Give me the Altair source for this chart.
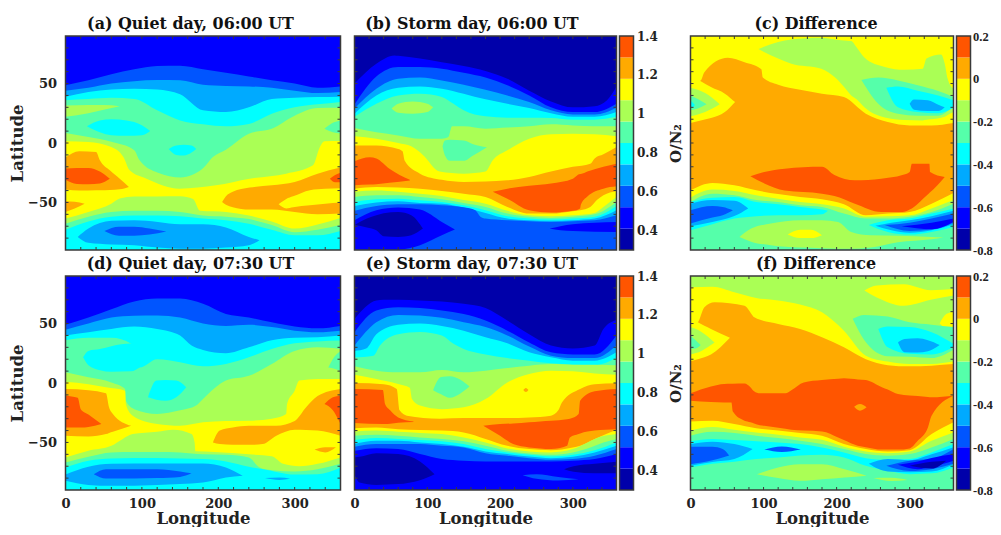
import altair as alt
import pandas as pd

COLORS = ["#0000AA", "#0000FF", "#0055FF", "#00AAFF", "#00FFFF", "#55FFAA", "#AAFF55", "#FFFF00", "#FFAA00", "#FF5500"]
LEVELS = list(range(10))
L = [0, 30, 60, 90, 120, 150, 180, 210, 240, 270, 300, 330, 360]
FRAME = "#3a3a3a"
TXT = "#222222"
FONT = "DejaVu Serif"
FONT2 = "Liberation Serif"
X_TICKS = list(range(20, 360, 20))
Y_TICKS = list(range(-80, 90, 10))
X_LABELS = [0, 100, 200, 300]
Y_LABELS = [-50, 0, 50]
BAR1_EDGES = [0.3, 0.41, 0.52, 0.63, 0.74, 0.85, 0.96, 1.07, 1.18, 1.29, 1.4]
BAR2_EDGES = [-0.8, -0.7, -0.6, -0.5, -0.4, -0.3, -0.2, -0.1, 0.0, 0.1, 0.2]
BAR1_LABELS = [0.4, 0.6, 0.8, 1.0, 1.2, 1.4]
BAR2_LABELS = [-0.8, -0.6, -0.4, -0.2, 0.0, 0.2]


def R(level, lons, hi, lo=None):
    return (level, lons, hi, lo if lo is not None else [-90] * len(lons))


PANEL_A = [
    R(1, [0, 360], [90, 90]),
    R(2, L, [48.5, 52.7, 57.8, 62, 64.7, 65, 62, 59, 56, 52.7, 50, 46.5, 47.6]),
    R(3, L, [44, 46.5, 50, 52, 53, 52.7, 49, 48, 47.6, 46.5, 44, 42, 43]),
    R(4, L, [39, 43, 45, 45.7, 45, 41, 27.5, 26, 30, 37, 38, 38.7, 39]),
    R(5, L, [36, 37, 38, 37, 27.5, 19, 15.7, 14, 16, 24.6, 30, 32.5, 34.5]),
    R(6, [0, 30, 60, 90, 97, 121, 151, 180, 193, 210, 240, 270, 300, 330, 360],
      [8.4, 5, 1, -6, -14.5, -25, -29, -21.3, -11.8, -5.6, 7.8, 12, 23, 29.4, 29.7]),
    R(7, [0, 30, 60, 76, 84, 106, 149, 197, 241, 289, 324, 333, 339, 360],
      [1.4, 0.8, -3.4, -12, -23, -30, -38.4, -35.6, -30, -25.8, -18.8, -3.4, 1.4, 1.7]),
    R(6, [0, 30, 60, 71, 90, 120, 150, 167, 176, 210, 240, 270, 300, 330, 360],
      [-63.6, -58, -51, -46.7, -45, -45, -44.8, -47, -57, -58, -61, -66, -72, -68.5, -63]),
    R(5, L, [-68, -62, -58, -57, -57, -58, -61, -62, -64, -69, -75, -73, -69]),
    R(4, L, [-73, -66, -62, -61, -61, -61.6, -63.6, -65, -68, -73, -77.6, -77.6, -74]),
    R(3, [16, 30, 60, 90, 121, 150, 180, 210, 240, 254],
      [-79, -72, -65.5, -65, -66.4, -68.4, -68.4, -71, -79, -81.7],
      [-79, -84, -85.4, -86, -88, -89, -89, -88, -86, -81.7]),
    R(2, [51, 70, 90, 110, 132], [-74, -70.5, -70.5, -72, -74.5], [-74, -78, -78, -77, -74.5]),
    R(6, [0, 30, 50, 71], [31.5, 32, 32, 31], [22, 25, 28, 31]),
    R(4, [28, 45, 60, 80, 100, 111], [14, 19, 20, 19, 15, 10], [14, 9, 6.5, 6, 6.5, 10]),
    R(4, [135, 145, 155, 165, 171], [-5, -2, -1.5, -2, -5], [-5, -10, -10.5, -8, -5]),
    R(5, [339, 350, 360], [12, 17, 19], [12, 9, 8]),
    R(8, [0, 18, 40, 45, 58, 71, 83], [-12.3, -7, -7.5, -14.5, -23, -30, -37], [-39.2, -40, -39.7, -39.7, -39.5, -39, -37]),
    R(9, [0, 15, 30, 45, 58], [-21.5, -21, -21, -24, -30], [-31, -34.5, -34.7, -34, -30]),
    R(8, [0, 12, 25], [-49, -49.5, -51], [-58, -55, -51]),
    R(8, [205, 210, 219, 241, 270, 300, 330, 360],
      [-49.6, -44.8, -41, -37.5, -35.6, -32.8, -25.8, -20.7],
      [-49.6, -52, -54, -56, -56, -58, -60, -59.4]),
    R(7, [279, 289, 298, 320, 340, 360], [-51.5, -47, -44.8, -39.7, -38.5, -38], [-51.5, -55, -54, -52.4, -51, -50]),
    R(9, [346, 353, 360], [-30, -27, -25], [-30, -33, -33]),
]

PANEL_B = [
    R(0, [0, 360], [90, 90]),
    R(1, [0, 30, 55, 60, 90, 120, 150, 180, 210, 240, 270, 300, 330, 347, 360],
      [50, 66.7, 73.7, 73.4, 71, 68, 64.7, 60.5, 54, 44, 35, 30, 31, 36, 47.6]),
    R(2, L, [32.5, 56, 64, 64, 62.5, 59, 55, 48.5, 40, 30, 26, 26, 33]),
    R(3, L, [29, 45.6, 54, 55, 52.6, 49, 44.8, 40, 34.5, 27.5, 24, 24, 29.7]),
    R(4, L, [24.6, 40, 46.5, 47.6, 45.7, 41.5, 36.7, 33, 29.4, 25, 22, 22, 26]),
    R(5, [0, 30, 60, 90, 120, 136, 150, 180, 210, 240, 270, 300, 330, 360],
      [22, 33, 40, 41.5, 38.7, 33, 27.5, 22.4, 21.3, 21.3, 21, 19.6, 19.6, 22]),
    R(6, [0, 30, 60, 90, 120, 129, 134, 150, 180, 210, 240, 270, 300, 330, 360],
      [12.6, 9, 6.4, 3.6, 3.6, 5, 14, 14, 12, 13, 14, 15.7, 14.8, 14, 14]),
    R(7, [0, 30, 60, 78, 94, 117, 150, 180, 190, 210, 240, 270, 300, 330, 360],
      [5.6, 3.6, 0, -2.8, -10, -24, -25.8, -24, -14.6, -6.2, 3.6, 7.3, 7.8, 7.3, 5.6]),
    R(8, [0, 30, 60, 66, 69, 90, 120, 150, 210, 240, 270, 300, 324, 330, 342, 360],
      [-2, -2, -5, -7, -15, -25.8, -31, -32.8, -31.4, -28.6, -24, -20, -17.4, -13, -9.5, -3.4]),
    R(7, [0, 30, 60, 90, 120, 150, 180, 210, 240, 270, 300, 310, 324, 333, 342, 360],
      [-38.4, -37, -37.5, -38.4, -40.3, -42.6, -45.4, -53.8, -59.4, -59.4, -57.4, -56.6, -53.8, -48, -44, -40.3]),
    R(6, [0, 30, 60, 90, 120, 150, 180, 210, 240, 270, 300, 330, 342, 360],
      [-41, -40, -41, -42.6, -44.6, -48, -51, -57, -60.8, -61.6, -60.8, -58.8, -53.8, -45.4]),
    R(5, L, [-45.4, -44, -44, -45.4, -47.3, -50.4, -53.8, -59.4, -62, -63, -62, -60, -49.6]),
    R(4, L, [-49.6, -47.3, -46.8, -48.2, -49.6, -52.4, -56.6, -61.6, -63.6, -64.4, -63.6, -62, -53]),
    R(3, L, [-53, -50, -49, -50.4, -51, -54.3, -58.8, -63.6, -65, -65.5, -65, -63.6, -56.6]),
    R(2, [0, 30, 60, 90, 120, 150, 166, 173, 180, 210, 240, 270, 300, 330, 360],
      [-57, -53, -51.5, -51.5, -52.4, -54, -56.6, -62, -63.6, -65, -65.8, -66.4, -65.8, -65, -60.8]),
    R(1, [0, 30, 60, 90, 120, 138], [-65, -56.6, -54.3, -56, -66.4, -72.8], [-89.6, -89.6, -89.6, -86, -77.6, -72.8]),
    R(0, [0, 17, 30, 40, 60, 78, 94], [-69, -63.6, -60.8, -59, -58, -60.8, -72], [-69, -71, -73.4, -78.4, -79, -77.6, -72]),
    R(1, [268, 283, 300, 360], [-72, -70, -68.3, -66.4], [-72, -73.4, -74, -74.8]),
    R(6, [51, 60, 80, 100, 108], [29, 33, 35, 33, 30], [29, 25.5, 24.6, 26, 30]),
    R(5, [121, 124, 131, 150, 163, 182], [-3, 2, 2.8, 2, -1, -3.5], [-3, -10, -15, -15, -10.5, -3.5]),
    R(9, [0, 21, 30, 48, 76], [-15.4, -12, -13, -21.6, -31], [-35.6, -35, -34.7, -33.5, -31.5]),
    R(9, [190, 210, 240, 270, 300, 310, 311, 320, 342, 360],
      [-41, -38.4, -36, -34, -30, -26, -26, -24, -20, -17.4],
      [-41, -46.8, -56.6, -58.5, -57, -55, -52, -45, -38.4, -36.4]),
]

PANEL_C = [
    R(7, [0, 360], [90, 90]),
    R(6, [93, 120, 138, 179, 198, 214, 220, 227, 238, 266, 293, 318, 323, 343, 348, 352, 360],
      [79, 85, 87, 88.5, 87, 86, 85.7, 80.7, 72, 64, 61.6, 62.5, 71, 74.5, 66.7, 54, 45.6],
      [79, 71, 66.7, 62.5, 55, 44.3, 40, 37, 30, 21.5, 19.4, 19, 19.5, 21.3, 22, 23.5, 26]),
    R(8, [0, 14, 19, 51, 74, 97, 99, 120, 150, 180, 210, 240, 270, 300, 330, 360],
      [50, 52.6, 59.6, 71.7, 68, 62, 55, 49, 44.8, 41.5, 38.6, 24.6, 17.6, 14.8, 14.8, 16.8]),
    R(7, [0, 14, 28, 47, 61], [56, 52, 47, 41.5, 34.4], [16.8, 19, 21, 26, 34.4]),
    R(6, [0, 20, 40], [46.5, 42, 32.5], [22.4, 26, 32.5]),
    R(5, [0, 10, 22], [40, 37, 32.5], [27.5, 29, 32.5]),
    R(4, [0, 3, 6], [35.5, 34, 32], [29.7, 30, 32]),
    R(5, [234, 257, 284, 311, 339, 360], [53, 55, 52.6, 48.5, 43.7, 38.7], [53, 33, 24.6, 23, 23, 31.6]),
    R(4, [268, 284, 311, 339, 360], [46.5, 47.6, 44, 40, 36], [46.5, 30, 26, 25, 29.7]),
    R(3, [300, 306, 325, 340, 348], [33, 36.5, 36, 32, 30], [33, 28, 27, 27, 30]),
    R(7, L, [-39.8, -33.6, -35.6, -39.8, -43, -45.4, -47.3, -51.5, -60.8, -59.4, -58, -51, -42]),
    R(6, L, [-46, -39.2, -40.3, -44, -46.8, -49.6, -51.5, -55, -62, -61.6, -60.8, -55, -48]),
    R(5, L, [-49.6, -42.6, -44, -48, -49.6, -52.4, -53.8, -59.4, -63.6, -63.6, -62, -58, -51]),
    R(4, [0, 30, 60, 90, 120, 150, 180, 188],
      [-49.6, -46, -45.4, -49.6, -51.5, -53.8, -56, -57],
      [-73.4, -68.3, -63.6, -61.6, -60.8, -60.8, -60, -57]),
    R(3, [0, 30, 60, 79], [-51, -48, -48.5, -55], [-70, -66.4, -61.5, -55]),
    R(2, [0, 30, 44, 58], [-56.6, -53, -53.8, -56.6], [-67.8, -62.7, -60.8, -56.6]),
    R(6, [67, 83, 110, 150, 180, 202, 220, 247, 284, 330, 346],
      [-79, -72, -67.8, -65, -65, -66.4, -74.8, -77.6, -78, -79, -79.5],
      [-79, -83, -86, -88, -88.5, -89, -89, -88, -83.5, -81, -79.5]),
    R(7, [133, 150, 165, 180], [-77, -73, -73, -77.5], [-77, -80, -80, -77.5]),
    R(4, [244, 270, 300, 330, 360], [-69, -65, -63.6, -59.4, -55], [-69, -74.8, -77, -74.8, -70.6]),
    R(3, [253, 275, 300, 330, 360], [-69.7, -67, -65, -61.6, -57], [-69.7, -73.4, -75.4, -73.4, -68.3]),
    R(2, [266, 300, 330, 360], [-69, -67, -63.6, -59.4], [-69, -74, -72.8, -67]),
    R(1, [289, 330, 360], [-70, -67, -63.6], [-70, -72.5, -66.4]),
    R(9, [82, 101, 129, 180, 197, 225, 261, 290, 300, 303, 327, 328, 348],
      [-28, -24.4, -21.6, -20, -27, -31.4, -30, -27, -24.4, -17.4, -17.4, -24.4, -28.6],
      [-28, -34, -40, -42.6, -44.5, -51, -58, -58, -56, -55, -42, -41.5, -28.6]),
]

PANEL_D = [
    R(1, [0, 360], [90, 90]),
    R(2, L, [49, 55, 62, 68.5, 71, 71, 66.6, 58, 55, 51, 47.5, 46, 48]),
    R(3, L, [44.7, 50, 55, 56.5, 56.7, 55, 50, 48, 49, 47, 44, 42.7, 44]),
    R(4, [0, 30, 60, 90, 120, 150, 165, 180, 210, 240, 270, 300, 330, 360],
      [40, 42.7, 45.5, 47.5, 45.5, 40, 31.5, 27.8, 25, 30, 36, 38, 38.5, 40]),
    R(5, [0, 30, 60, 86, 97, 120, 150, 180, 210, 240, 270, 300, 330, 360],
      [36, 38, 38, 33, 13, 20, 17.4, 14, 16, 21.6, 28.6, 33.4, 35, 35.7]),
    R(4, [23, 30, 45, 60, 86, 97], [21.6, 27, 28.5, 31, 33.2, 14], [21.6, 15, 10.8, 9.5, 9.8, 13]),
    R(6, [0, 30, 60, 78, 79, 90, 120, 150, 171, 180, 210, 240, 270, 300, 330, 360],
      [9, 4.8, 0.5, -5, -15, -22, -26, -23, -19, -13.5, 2, 6, 16, 27, 30, 28.6]),
    R(5, [344, 352, 360], [13, 22, 27], [13, 12, 10]),
    R(4, [108, 119, 131, 145, 158], [-12, 2, 2.5, 2, -3.6], [-12, -14, -15, -12, -3.6]),
    R(7, [0, 30, 53, 78, 79, 88, 120, 150, 180, 210, 240, 270, 289, 290, 300, 306, 330, 360],
      [1, -1, -3.6, -6.5, -17.7, -27.5, -34.5, -36, -33, -32, -31.7, -30, -26, -17.7, -6.5, 2, 3.4, 3.4]),
    R(6, [0, 30, 60, 75, 88, 120, 141, 165, 169, 170, 195, 240, 270, 285, 306, 330, 360],
      [-62.6, -57, -52.8, -47, -43, -41, -39.3, -43, -50, -57.5, -58, -60, -61.6, -68, -70, -68, -62.6]),
    R(5, [0, 30, 60, 90, 120, 150, 180, 210, 240, 254, 270, 300, 330, 360],
      [-66.8, -62, -58.4, -58, -58, -58.4, -60, -60.4, -62.6, -71, -73.3, -74.4, -72.5, -68]),
    R(4, [0, 30, 60, 90, 120, 150, 180, 210, 240, 259, 300, 330, 360],
      [-71, -65.4, -63.5, -63, -63, -63.5, -64, -66, -70.5, -72.5, -77, -76.7, -71]),
    R(3, [0, 30, 60, 120, 180, 210, 232], [-77, -70.5, -68, -67.7, -67.7, -71, -78], [-82.3, -85.7, -86.5, -85.7, -83.7, -79.5, -78]),
    R(2, [37, 53, 90, 120, 150, 165], [-76.7, -72.5, -72.5, -72.5, -74.4, -76], [-76.7, -80.3, -80.3, -80, -79, -76]),
    R(3, [261, 280, 294], [-80, -79.5, -80.5], [-80, -81.5, -80.5]),
    R(8, [0, 30, 53, 57, 62, 86], [-5, -6, -8.7, -20.5, -26, -36], [-44.4, -45, -43, -42, -41, -36]),
    R(9, [0, 16, 20, 30, 47], [-10.7, -12.5, -22, -26.5, -34.5], [-37.5, -37.5, -37.5, -37, -34.5]),
    R(8, [193, 202, 219, 240, 258, 276, 300, 315, 330, 360],
      [-50, -40, -37.4, -36, -36, -36, -32, -20.5, -11, -5],
      [-50, -51.4, -52, -52, -51.4, -44.4, -39.3, -39.5, -40, -44.4]),
    R(9, [339, 350, 360], [-17.7, -12, -10.7], [-17.7, -23, -34.5]),
    R(8, [326, 340, 354], [-56, -54, -54], [-56, -58.4, -54]),
]

PANEL_E = [
    R(0, [0, 360], [90, 90]),
    R(1, [0, 30, 40, 60, 90, 120, 150, 180, 210, 240, 270, 300, 330, 342, 360],
      [54, 69.4, 70, 70, 69.4, 68.5, 66.6, 63, 52.5, 41, 31.5, 29, 31.5, 45.5, 53]),
    R(2, L, [42.7, 61, 63.8, 63, 61, 58, 52.5, 44, 34, 25.8, 24, 24, 40]),
    R(3, L, [31.5, 51, 57.3, 56.7, 54.8, 51, 47, 40, 30.6, 23, 21, 21, 31.5]),
    R(4, [0, 16, 30, 60, 90, 120, 150, 180, 210, 240, 270, 300, 330, 360],
      [27, 29, 41, 49, 50, 48, 44, 38.5, 33.4, 25.8, 21.6, 18.8, 18.8, 25.8]),
    R(5, [0, 26, 35, 60, 90, 120, 136, 150, 180, 210, 240, 270, 300, 330, 360],
      [21.6, 23, 31.5, 41, 43, 40, 33, 28.6, 24, 21, 18.8, 16.6, 15.4, 15, 21]),
    R(6, L, [14, 10.4, 9, 9, 11, 9, 10.4, 12.6, 14.6, 16, 15.4, 15.4, 15]),
    R(7, [0, 30, 60, 76, 79, 90, 120, 150, 180, 210, 240, 270, 300, 330, 360],
      [7, 3.4, -0.8, -4, -13.5, -19, -22, -20.5, -13.5, 0.5, 7.6, 10.4, 9.8, 8, 7]),
    R(8, [0, 40, 58, 62, 72, 117, 150, 210, 240, 270, 280, 285, 310, 330, 360],
      [0, -1, -5, -23, -27.5, -30, -29.5, -29.5, -29, -27.5, -23, -16.3, -5, -1, -0.3]),
    R(7, [0, 30, 60, 90, 120, 150, 180, 210, 240, 270, 300, 310, 330, 360],
      [-38, -37.4, -38.8, -39.6, -40, -41.6, -47, -52.8, -55.6, -56.5, -54.2, -52.8, -47, -39.3]),
    R(6, [0, 30, 60, 90, 120, 150, 180, 210, 240, 270, 300, 318, 330, 360],
      [-40.7, -40, -41, -42, -43, -45.8, -50, -55, -57.6, -58.4, -55.6, -50.6, -47, -43]),
    R(5, [0, 30, 60, 90, 120, 150, 180, 210, 240, 270, 300, 324, 342, 360],
      [-44.4, -43.5, -44.4, -45.8, -47, -49, -52.8, -57, -59.3, -60.4, -58.4, -54.2, -50, -47]),
    R(4, L, [-48, -46.3, -47, -48, -49, -51.4, -55.6, -58.4, -60.4, -61.8, -60.4, -56.5, -50]),
    R(3, L, [-51.4, -48.6, -48.6, -50, -51.4, -53.7, -57.6, -59.8, -61.8, -63.2, -62, -58.4, -52.8]),
    R(2, L, [-53.7, -51.4, -51.4, -51.4, -52.8, -54.2, -59, -61.2, -63.2, -64.6, -64, -61.2, -55.6]),
    R(1, L, [-57, -54.8, -55.6, -59.8, -64, -65.4, -66, -66, -66, -66, -65.4, -64, -59.8]),
    R(0, [0, 7, 30, 60, 90, 110], [-62.6, -62, -59, -59.8, -66, -76.7], [-77, -83.7, -85.7, -85, -81.7, -76.7]),
    R(0, [288, 301, 330, 360], [-72.5, -70, -68, -66.3], [-72.5, -74.7, -76, -76]),
    R(2, [231, 250, 280, 308], [-77.5, -76.7, -79, -81], [-77.5, -80.5, -82, -81]),
    R(5, [108, 119, 131, 145, 158], [-6, 5, 5.7, 3, -3], [-6, -9.5, -12.5, -9, -3]),
    R(9, [0, 39, 42, 49, 60, 81], [-5, -5.9, -17.7, -23, -29, -32.3], [-33.7, -34.5, -34.5, -34.3, -33.5, -32.8]),
    R(9, [177, 200, 218, 240, 255, 270, 292, 296, 308, 310, 330, 360],
      [-36, -34.5, -34, -33, -32.3, -31.7, -30.5, -30, -26, -15, -7, -5],
      [-36, -44.4, -51.4, -54.2, -55, -55.6, -52.8, -45.8, -43, -42.5, -40, -38.8]),
    R(8, [232, 235.5, 239], [-5.9, -4.2, -5.9], [-5.9, -7.6, -5.9]),
]

PANEL_F = [
    R(6, [0, 360], [90, 90]),
    R(7, L, [80.6, 81, 76.4, 71.6, 69.4, 66, 59.5, 44, 23, 18, 16, 16, 18.2]),
    R(7, [238, 255, 292, 329, 360], [77.8, 82, 83, 78, 79], [77.8, 72, 65, 70, 73.6]),
    R(7, [341, 350, 360], [50, 58, 60], [50, 46, 45.5]),
    R(8, [0, 10, 19, 33, 74, 88, 120, 150, 180, 210, 240, 270, 300, 360],
      [48, 51, 63.8, 68, 65, 55, 49.7, 45.5, 38.5, 30, 20, 15, 14, 16]),
    R(7, [0, 10, 28, 54], [55, 51, 45.5, 38], [18.2, 20, 24, 38]),
    R(6, [0, 15, 33], [47, 43, 34], [24, 27, 34]),
    R(5, [0, 7, 14], [40, 36, 32], [28.6, 29, 32]),
    R(5, [222, 238, 270, 300, 330, 360], [54, 57.3, 56, 51, 49, 47], [54, 36, 22.5, 22, 21, 28]),
    R(4, [257, 270, 300, 330, 360], [45.5, 47.5, 47, 42.7, 33], [45.5, 30, 24.5, 24, 30]),
    R(3, [284, 293, 311, 325, 341], [34, 37, 37.6, 36, 32], [34, 25.8, 25.6, 26.7, 32]),
    R(7, L, [-32.3, -31.7, -34.5, -38, -40, -42, -44.4, -51.4, -55.6, -57.6, -56.5, -43, -33]),
    R(6, L, [-40, -37, -39.3, -41.6, -43.5, -45.8, -47.8, -53.7, -57.6, -59, -57.6, -48.6, -41.6]),
    R(5, L, [-44.4, -41, -42, -44.4, -46.3, -48.6, -51.4, -55.6, -59.8, -61.2, -59.8, -54.2, -47]),
    R(4, L, [-49, -47, -48, -49, -50, -51.4, -54.2, -58.4, -63.2, -64.6, -64, -58.4, -51.4],
      [-71, -68, -66.3, -64, -62.6, -61, -60.4, -62.6, -69.7, -73.9, -76.7, -76, -71]),
    R(3, [0, 30, 60, 85], [-51.4, -49.4, -51.4, -55.6], [-69.7, -66.5, -64, -55.6]),
    R(2, [0, 30, 44, 53], [-53.7, -53.7, -55.6, -61], [-68.3, -65, -62.6, -61]),
    R(2, [101, 125, 151], [-56, -53.5, -56], [-56, -58, -56]),
    R(3, [244, 270, 300, 330, 360], [-68, -64, -65, -60, -54], [-68, -74.4, -75, -74.4, -68.3]),
    R(2, [268, 300, 330, 360], [-69.7, -65.4, -64, -55.6], [-69.7, -74, -72.5, -68]),
    R(1, [284, 311, 330, 360], [-68.8, -66, -63, -60], [-68.8, -72.5, -70.5, -65.4]),
    R(0, [300, 330, 350], [-69.7, -66.3, -65.4], [-69.7, -72, -65.4]),
    R(6, [91, 120, 150, 180, 211, 241], [-76.7, -71, -68.3, -68.3, -72.5, -78], [-76.7, -80, -82.3, -81, -79.5, -78]),
    R(6, [250, 275, 297], [-80, -79.7, -81.5], [-80, -82.5, -81.5]),
    R(9, [0, 28, 46, 56, 58, 74, 82, 87, 95, 101, 130, 138, 155, 180, 202, 210, 229, 240, 262, 270, 284, 300, 311, 325, 330, 360],
      [-8.7, -3, -0.8, -0.7, -0.7, -0.5, -3.6, -7, -8.7, -8.7, -8.7, -6, 0.5, 2.5, 3.5, 4, 3, 2.5, -3.6, -5.5, -9.3, -10.5, -11, -11.8, -12, -10.7],
      [-15, -16, -16.3, -16.3, -24, -31.7, -33, -34, -35.5, -36, -38.5, -39.3, -40, -40.7, -45.8, -48, -52.8, -54, -56, -56, -56, -55, -48.6, -37.4, -27.5, -10.7]),
    R(8, [224, 232, 241], [-20, -17.7, -20.5], [-20, -23.3, -20.5]),
]

color_scale = alt.Scale(domain=LEVELS, range=COLORS)
xs = alt.Scale(domain=[0, 360], nice=False, zero=False)
ys = alt.Scale(domain=[-90, 90], nice=False, zero=False)
H = 214


def frame(regions):
    rows = []
    for i, (level, lons, hi, lo) in enumerate(regions):
        for a, b, c in zip(lons, hi, lo):
            rows.append({"region": f"r{i:03d}", "level": level, "lon": a, "hi": b, "lo": c})
    return pd.DataFrame(rows)


def outline(w):
    return alt.Chart(pd.DataFrame({"a": [0]})).mark_rect(filled=False, stroke=FRAME, strokeWidth=1.5).encode(
        x=alt.value(0), x2=alt.value(w), y=alt.value(0), y2=alt.value(H))


def panel(regions, title, w, dx, left="lat", bottom=True):
    if bottom:
        xa = alt.Axis(values=X_LABELS, title="Longitude", grid=False, ticks=False, domain=False,
                      labelFlush=False, labelPadding=7, titlePadding=0, format="d")
    else:
        xa = None
    if left == "lat":
        ya = alt.Axis(values=Y_LABELS, title="Latitude", grid=False, ticks=False, domain=False,
                      labelFlush=False, labelPadding=9, titleX=-40, format="d")
    elif left == "on2":
        ya = alt.Axis(labels=False, title="O/N\u2082", grid=False, ticks=False, domain=False, titlePadding=7,
                      titleFontSize=15)
    else:
        ya = None
    area = alt.Chart(frame(regions)).mark_area(interpolate="monotone", clip=True, orient="vertical").encode(
        x=alt.X("lon:Q", scale=xs, axis=xa),
        y=alt.Y("hi:Q", scale=ys, axis=ya),
        y2="lo:Q",
        color=alt.Color("level:O", scale=color_scale, legend=None),
        detail="region:N",
    )
    tx = pd.DataFrame({"lon": X_TICKS})
    ty = pd.DataFrame({"lat": Y_TICKS})
    layers = [area]
    tick = dict(color=FRAME, strokeWidth=1)
    for y0, y1 in ((H, H - 3), (0, 3)):
        layers.append(alt.Chart(tx).mark_rule(**tick).encode(
            x=alt.X("lon:Q", scale=xs), y=alt.value(y0), y2=alt.value(y1)))
    for x0, x1 in ((0, 3), (w, w - 3)):
        layers.append(alt.Chart(ty).mark_rule(**tick).encode(
            y=alt.Y("lat:Q", scale=ys), x=alt.value(x0), x2=alt.value(x1)))
    layers.append(outline(w))
    return alt.layer(*layers).properties(
        width=w, height=H,
        title=alt.TitleParams(title, dx=dx, offset=3),
    )


def colorbar(edges, labels, fmt, font, size, pad):
    df = pd.DataFrame({"lo": edges[:-1], "hi": edges[1:], "level": LEVELS})
    bar = alt.Chart(df).mark_rect().encode(
        x=alt.value(0), x2=alt.value(14),
        y=alt.Y("lo:Q", scale=alt.Scale(domain=[edges[0], edges[-1]], nice=False, zero=False),
                axis=alt.Axis(orient="right", values=labels, title=None, grid=False, ticks=False, domain=False,
                              labelFlush=False, labelPadding=pad, labelFont=font, labelFontSize=size, labelExpr=fmt)),
        y2="hi:Q",
        color=alt.Color("level:O", scale=color_scale, legend=None),
    )
    return alt.layer(bar, outline(14)).properties(width=14, height=H)


def spacer(w):
    return alt.Chart(pd.DataFrame({"a": [0]})).mark_point(opacity=0).encode(
        x=alt.value(0), y=alt.value(0)).properties(width=w, height=H, view=alt.ViewConfig(stroke=None))


FMT = "datum.value == 0 ? '0' : replace(format(datum.value, '.1~f'), '\u2212', '-')"
charts = [
    panel(PANEL_A, "(a) Quiet day, 06:00 UT", 275, -12.5, "lat", False), spacer(7.5),
    panel(PANEL_B, "(b) Storm day, 06:00 UT", 262, -13.5, None, False),
    colorbar(BAR1_EDGES, BAR1_LABELS, FMT, FONT, 12, 3), spacer(51),
    panel(PANEL_C, "(c) Difference", 263, -6, "on2", False),
    colorbar(BAR2_EDGES, BAR2_LABELS, FMT, FONT2, 12.5, 2),
    panel(PANEL_D, "(d) Quiet day, 07:30 UT", 275, -12.5, "lat", True), spacer(7.5),
    panel(PANEL_E, "(e) Storm day, 07:30 UT", 262, -13.5, None, True),
    colorbar(BAR1_EDGES, BAR1_LABELS, FMT, FONT, 12, 3), spacer(51),
    panel(PANEL_F, "(f) Difference", 263, -6, "on2", True),
    colorbar(BAR2_EDGES, BAR2_LABELS, FMT, FONT2, 12.5, 2),
]

chart = alt.concat(*charts, columns=7, spacing={"row": 26, "column": 3}, bounds="flush").properties(
    padding={"left": 1.5, "top": 8, "right": 0, "bottom": 0}, background="white"
).configure_view(stroke=None).configure_axis(
    labelFont=FONT, titleFont=FONT, labelFontWeight="bold", titleFontWeight="bold",
    labelFontSize=13, titleFontSize=16.5, labelColor=TXT, titleColor=TXT,
).configure_title(font=FONT, fontWeight="bold", fontSize=15.9, color="#111111", anchor="middle")

chart.save("out.html", embed_options={"renderer": "svg", "actions": False})
